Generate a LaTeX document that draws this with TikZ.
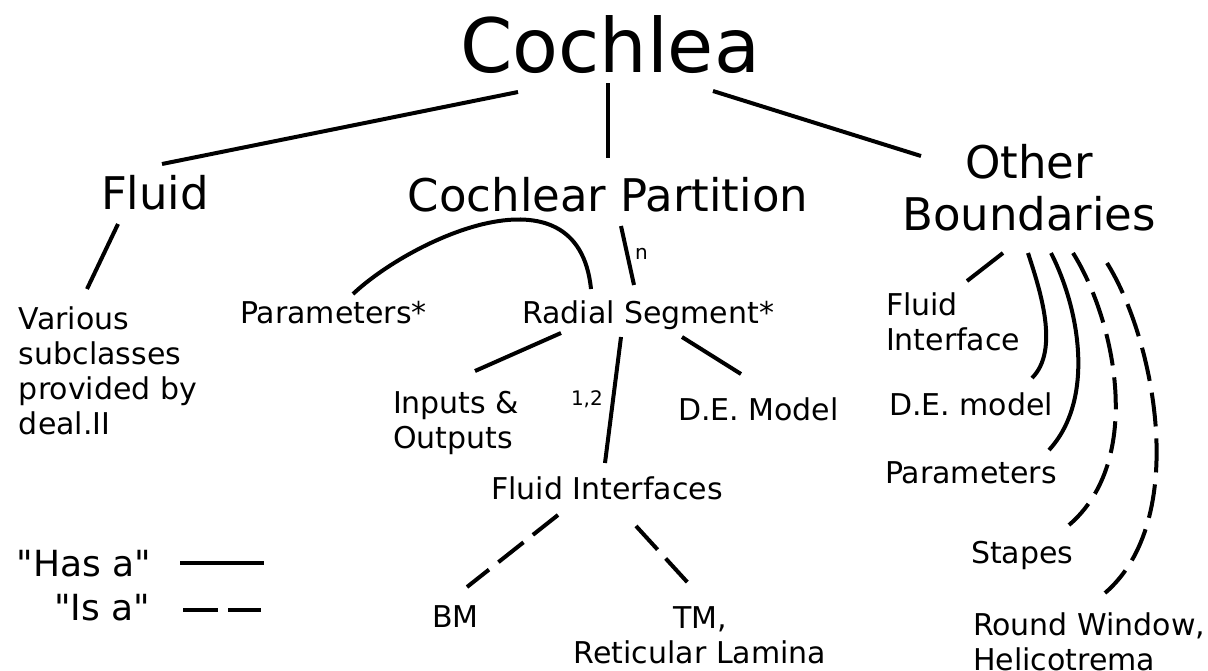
\documentclass[tikz,border=0pt]{standalone}
\usepackage{fontspec}
\setmainfont{DejaVu Sans}[Ligatures=TeXOff]
\begin{document}
\begin{tikzpicture}[x=1pt,y=-1pt,
  lbl/.style={inner sep=0pt,outer sep=0pt},
  huge/.style={lbl,font=\fontsize{75}{90}\selectfont},
  big/.style={lbl,font=\fontsize{45}{52}\selectfont},
  mid/.style={lbl,font=\fontsize{30}{35}\selectfont},
  leg/.style={lbl,font=\fontsize{36}{42}\selectfont},
  tiny/.style={lbl,font=\fontsize{20}{24}\selectfont},
  has/.style={line width=4pt},
  isa/.style={line width=4pt,dash pattern=on 32pt off 12pt}]
\useasboundingbox (0,0) rectangle (1208,670);
% nodes (multi-line nodes anchored at the baseline of their last line)
\node[huge,anchor=base] (cochlea) at (610,72) {Cochlea};
\node[big,anchor=base] (fluid) at (155,209) {Fluid};
\node[big,anchor=base] (cp) at (608,211) {Cochlear Partition};
\node[big,anchor=base,align=center] (other) at (1029,230) {Other\\Boundaries};
\node[mid,anchor=base west,align=left] (various) at (19,434) {Various\\subclasses\\provided by\\deal.II};
\node[mid,anchor=base west] (params) at (240,323) {Parameters*};
\node[mid,anchor=base west] (radial) at (522,323) {Radial Segment*};
\node[mid,anchor=base west,align=left] (io) at (393,448) {Inputs \&\\Outputs};
\node[mid,anchor=base west] (de) at (678,420) {D.E. Model};
\node[mid,anchor=base] (fi) at (607,499) {Fluid Interfaces};
\node[mid,anchor=base west] (bm) at (432,627) {BM};
\node[mid,anchor=base,align=center] (tm) at (700,663) {TM,\\Reticular Lamina};
\node[mid,anchor=base west,align=left] (ofi) at (886,350) {Fluid\\Interface};
\node[mid,anchor=base west] (ode) at (889,415) {D.E. model};
\node[mid,anchor=base west] (opar) at (885,483) {Parameters};
\node[mid,anchor=base west] (stapes) at (971,563) {Stapes};
\node[mid,anchor=base west,align=left] (rw) at (973,670) {Round Window,\\Helicotrema};
\node[tiny,anchor=base west] (nlab) at (635,259) {n};
\node[tiny,anchor=base west] (onetwo) at (571,405) {1,2};
\node[leg,anchor=base east] (hasa) at (151,576) {"Has a"};
\node[leg,anchor=base east] (isa) at (150,620) {"Is a"};
% connector end points
\coordinate (c-f) at (518,92);   \coordinate (f-c) at (162,164);
\coordinate (c-p) at (608,83);   \coordinate (p-c) at (608,158);
\coordinate (c-o) at (713,91);   \coordinate (o-c) at (921,156);
\coordinate (f-v) at (118,224);  \coordinate (v-f) at (87,289);
\coordinate (pa-r) at (353,294); \coordinate (r-pa) at (591,289);
\coordinate (p-r) at (621,226);  \coordinate (r-p) at (634,285);
\coordinate (r-io) at (561,333); \coordinate (io-r) at (475,371);
\coordinate (r-fi) at (621,337); \coordinate (fi-r) at (605,463);
\coordinate (r-de) at (682,337); \coordinate (de-r) at (741,374);
\coordinate (fi-bm) at (558,515); \coordinate (bm-fi) at (467,587);
\coordinate (fi-tm) at (636,526); \coordinate (tm-fi) at (689,584);
\coordinate (o-ofi) at (1003,253); \coordinate (ofi-o) at (967,281);
\coordinate (o-ode) at (1028,253); \coordinate (ode-o) at (1032,378);
\coordinate (o-opar) at (1051,253); \coordinate (opar-o) at (1049,450);
\coordinate (o-st) at (1073,253); \coordinate (st-o) at (1069,525);
\coordinate (o-rw) at (1107,263); \coordinate (rw-o) at (1105,593);
\coordinate (h1) at (180,563); \coordinate (h2) at (264,563);
\coordinate (i1) at (183,610); \coordinate (i2) at (261,610);
% connectors
\draw[has] (c-f) -- (f-c);
\draw[has] (c-p) -- (p-c);
\draw[has] (c-o) -- (o-c);
\draw[has] (f-v) -- (v-f);
\draw[has] (pa-r) .. controls (410,240) and (578,160) .. (r-pa);
\draw[has] (p-r) -- (r-p);
\draw[has] (r-io) -- (io-r);
\draw[has] (r-fi) -- (fi-r);
\draw[has] (r-de) -- (de-r);
\draw[isa] (fi-bm) -- (bm-fi);
\draw[isa] (fi-tm) -- (tm-fi);
\draw[has] (o-ofi) -- (ofi-o);
\draw[has] (o-ode) .. controls (1040,290) and (1060,350) .. (ode-o);
\draw[has] (o-opar) .. controls (1080,310) and (1095,400) .. (opar-o);
\draw[isa] (o-st) .. controls (1115,320) and (1145,460) .. (st-o);
\draw[isa,dash pattern=on 34pt off 12pt] (o-rw) .. controls (1155,340) and (1190,520) .. (rw-o);
\draw[has] (h1) -- (h2);
\draw[line width=4pt,dash pattern=on 35pt off 10pt] (i1) -- (i2);
\end{tikzpicture}
\end{document}
